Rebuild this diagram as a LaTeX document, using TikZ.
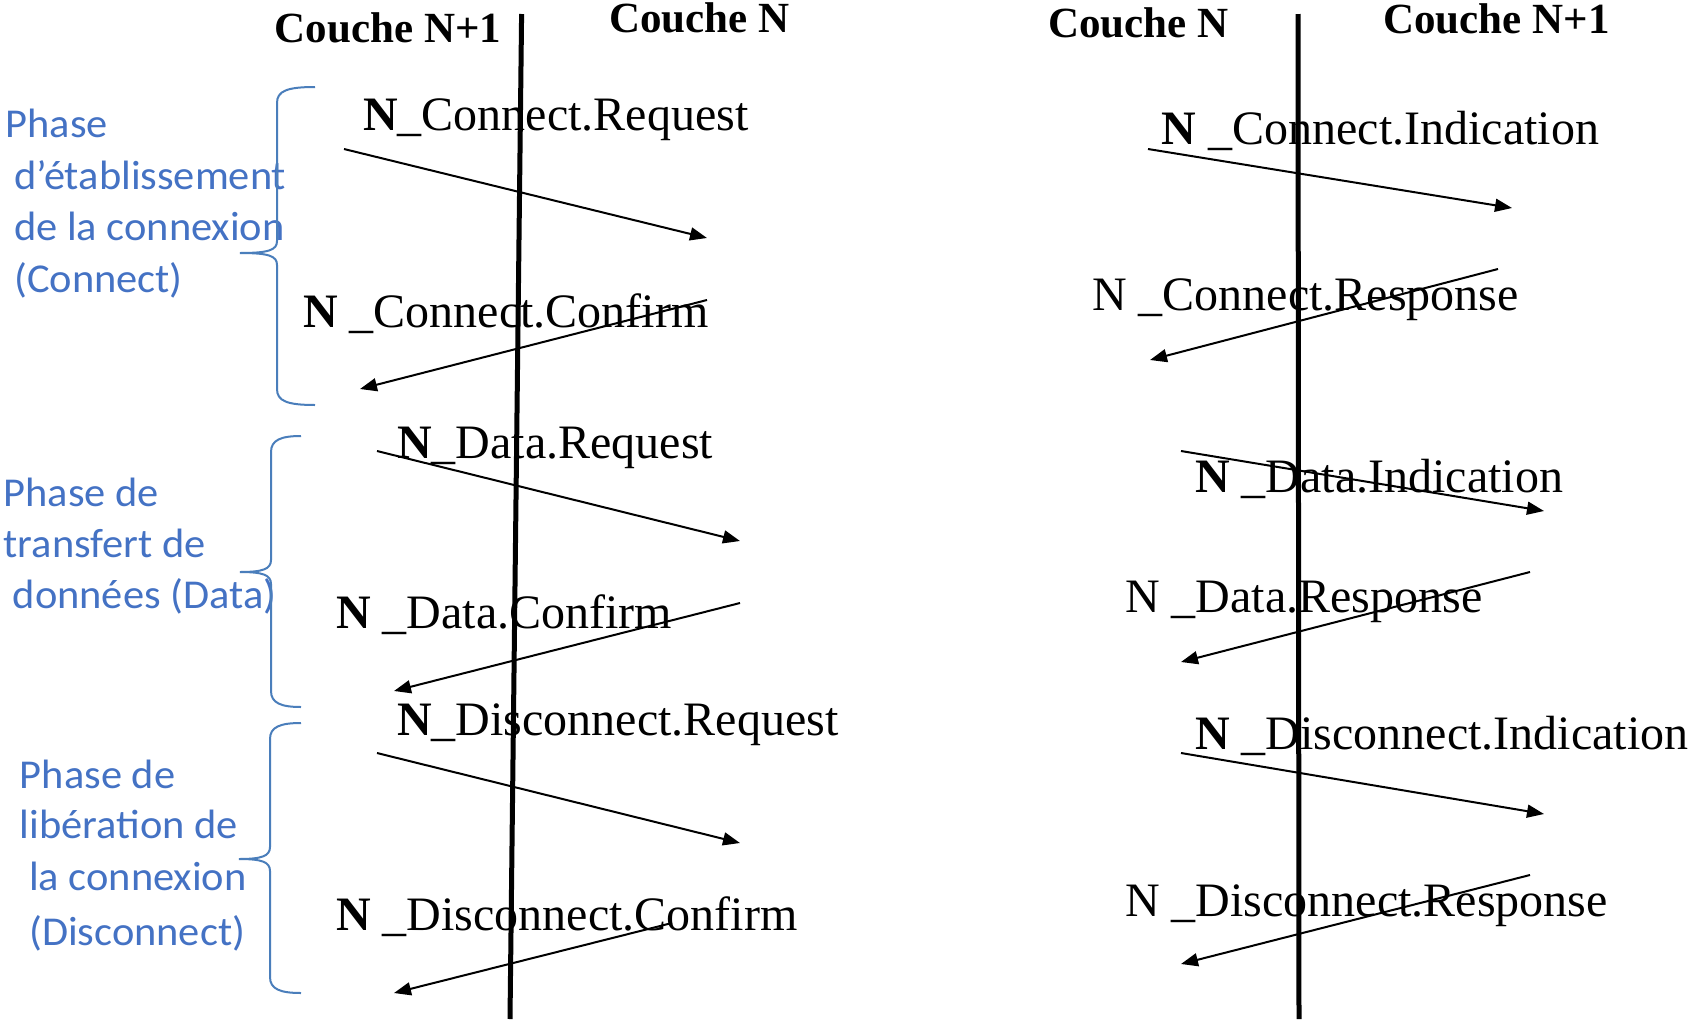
\documentclass[tikz,border=0pt]{standalone}
\usepackage{fontspec}
\usepackage{graphicx}
\setmainfont{Liberation Serif}
\newfontfamily\phasefont{Carlito}
\usetikzlibrary{arrows.meta}
\definecolor{phaseblue}{HTML}{4472C4}
\definecolor{bracecol}{HTML}{4A7EBB}

% slightly widened phase caption text
\newcommand\phasetext[1]{\scalebox{1.035}[1]{#1}}

% curly brace opening to the right: end x, spine x, tip x, top y, tip y, bottom y
\newcommand\phasebrace[6]{%
  \draw[brace] (#1,#4) .. controls (#2+10,#4) and (#2,#4+4) .. (#2,#4+16)
    -- (#2,#5-12) .. controls (#2,#5-3) and (#2-8,#5) .. (#3,#5)
    .. controls (#2-8,#5) and (#2,#5+3) .. (#2,#5+12)
    -- (#2,#6-16) .. controls (#2,#6-4) and (#2+10,#6) .. (#1,#6);}

\begin{document}
\begin{tikzpicture}[x=1pt,y=-1pt,
  lifeline/.style={line width=5pt},
  msg/.style={line width=2pt,-{Triangle[length=17pt,width=13pt]}},
  prim/.style={anchor=base west,inner sep=0pt,font=\fontsize{48}{52}\selectfont},
  layer/.style={anchor=base west,inner sep=0pt,font=\fontsize{43}{48}\selectfont\bfseries},
  phase/.style={anchor=base west,inner sep=0pt,text=phaseblue,font=\phasefont\fontsize{41}{50}\selectfont},
  brace/.style={draw=bracecol,line width=2pt}]
\fill[white] (0,0) rectangle (1690,1023);
\useasboundingbox (0,0) rectangle (1690,1023);

% layer headings
\node[layer] (hl1) at (274.6,42.7) {Couche N+1};
\node[layer] (hl2) at (609,32.7) {Couche N};
\node[layer] (hr1) at (1048,37.3) {Couche N};
\node[layer] (hr2) at (1383,33.3) {Couche N+1};

% phase names
\node[phase] (p1a) at (5.5,137) {\phasetext{Phase}};
\node[phase] (p1b) at (14,189) {\phasetext{d’établissement}};
\node[phase] (p1c) at (14,240) {\phasetext{de la connexion}};
\node[phase] (p1d) at (14,292) {\phasetext{(Connect)}};
\node[phase] (p2a) at (3.5,506.5) {\phasetext{Phase de}};
\node[phase] (p2b) at (3.5,557.7) {\phasetext{transfert de}};
\node[phase] (p2c) at (12.6,608.5) {\phasetext{données (Data)}};
\node[phase] (p3a) at (19.7,788.5) {\phasetext{Phase de}};
\node[phase] (p3b) at (19.7,838.5) {\phasetext{libération de}};
\node[phase] (p3c) at (29,890) {\phasetext{la connexion}};
\node[phase] (p3d) at (29,945) {\phasetext{(Disconnect)}};

% service primitives, initiator side
\node[prim] (l1) at (363,130) {\textbf{N}\_Connect.Request};
\node[prim] (l2) at (303,327) {\textbf{N} \_Connect.Confirm};
\node[prim] (l3) at (397,458.5) {\textbf{N}\_Data.Request};
\node[prim] (l4) at (336,628) {\textbf{N} \_Data.Confirm};
\node[prim] (l5) at (397,735) {\textbf{N}\_Disconnect.Request};
\node[prim] (l6) at (336,930) {\textbf{N} \_Disconnect.Confirm};

% service primitives, responder side
\node[prim] (r1) at (1161.5,144) {\textbf{N} \_Connect.Indication};
\node[prim] (r2) at (1092,310) {N \_Connect.Response};
\node[prim] (r3) at (1195,492) {\textbf{N} \_Data.Indication};
\node[prim] (r4) at (1125,612) {N \_Data.Response};
\node[prim] (r5) at (1195,749) {\textbf{N} \_Disconnect.Indication};
\node[prim] (r6) at (1125,916) {N \_Disconnect.Response};

% layer boundaries
\coordinate (lt) at (521.6,14);
\coordinate (lb) at (510,1019);
\coordinate (rt) at (1298,14);
\coordinate (rb) at (1299,1019);
\draw[lifeline] (lt) -- (lb);
\draw[lifeline] (rt) -- (rb);

% message arrows, initiator side
\coordinate (a1s) at (344,149);  \coordinate (a1e) at (707,238);
\coordinate (a2s) at (707,300);  \coordinate (a2e) at (360,389);
\coordinate (a3s) at (377,451);  \coordinate (a3e) at (740,541);
\coordinate (a4s) at (740,603);  \coordinate (a4e) at (394,691);
\coordinate (a5s) at (377,753);  \coordinate (a5e) at (740,843);
\coordinate (a6s) at (672,923);  \coordinate (a6e) at (394,993);
\foreach \i in {1,...,6} \draw[msg] (a\i s) -- (a\i e);

% message arrows, responder side
\coordinate (b1s) at (1148,149); \coordinate (b1e) at (1512,208);
\coordinate (b2s) at (1498,269); \coordinate (b2e) at (1150,360);
\coordinate (b3s) at (1181,451); \coordinate (b3e) at (1544,511);
\coordinate (b4s) at (1530,572); \coordinate (b4e) at (1181,662);
\coordinate (b5s) at (1181,753); \coordinate (b5e) at (1544,814);
\coordinate (b6s) at (1530,875); \coordinate (b6e) at (1181,964);
\foreach \i in {1,...,6} \draw[msg] (b\i s) -- (b\i e);

% phase braces
\phasebrace{315}{277}{240}{87}{253}{405}
\phasebrace{301}{271}{240}{436}{572}{707}
\phasebrace{301}{270}{239}{723}{859}{993}
\end{tikzpicture}
\end{document}
